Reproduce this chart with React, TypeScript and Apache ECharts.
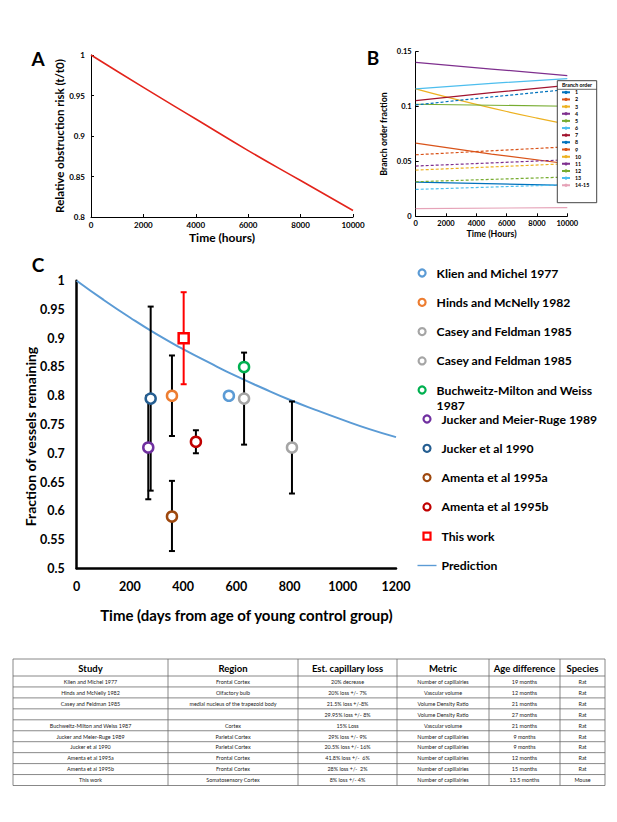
import React, { useEffect, useRef } from "react";
import * as echarts from "echarts";

const FONT = "Lato, 'Open Sans', 'DejaVu Sans', sans-serif";

// ---------- Panel A ----------
const riskHours = [0, 2000, 4000, 6000, 8000, 10000];
const riskValues = [1.0, 0.96, 0.921, 0.882, 0.845, 0.808];

// ---------- Panel B ----------
const branchNames = ["1", "2", "3", "4", "5", "6", "7", "8", "9", "10", "11", "12", "13", "14-15"];
const branchColors = [
  "#0072BD", "#D95319", "#EDB120", "#7E2F8E", "#77AC30", "#4DBEEE", "#A2142F",
  "#0072BD", "#D95319", "#EDB120", "#7E2F8E", "#77AC30", "#4DBEEE", "#E6A3B8",
];
const branchDashed = [false, false, false, false, false, false, false, true, true, true, true, true, true, false];
const branch1 = [[0, 0.0312], [10000, 0.0282]];
const branch2 = [[0, 0.0667], [5000, 0.0567], [10000, 0.0479]];
const branch3 = [[0, 0.1161], [2000, 0.1088], [4000, 0.102], [6000, 0.0955], [8000, 0.0895], [10000, 0.0839]];
const branch4 = [[0, 0.1403], [5000, 0.1342], [10000, 0.1282]];
const branch5 = [[0, 0.1021], [10000, 0.1003]];
const branch6 = [[0, 0.1161], [5000, 0.1212], [10000, 0.1255]];
const branch7 = [[0, 0.1055], [5000, 0.1127], [10000, 0.1194]];
const branch8 = [[0, 0.1015], [5000, 0.1088], [10000, 0.1155]];
const branch9 = [[0, 0.0561], [10000, 0.0633]];
const branch10 = [[0, 0.0421], [10000, 0.0479]];
const branch11 = [[0, 0.0458], [10000, 0.0515]];
const branch12 = [[0, 0.0315], [10000, 0.0358]];
const branch13 = [[0, 0.0245], [10000, 0.0288]];
const branch14 = [[0, 0.007], [10000, 0.0079]];
const branchData = [branch1, branch2, branch3, branch4, branch5, branch6, branch7, branch8, branch9, branch10, branch11, branch12, branch13, branch14];

// ---------- Panel C ----------
const predDays = [0, 100, 200, 300, 400, 500, 600, 700, 800, 900, 1000, 1100, 1200];
const predValues = [1.0, 0.967, 0.936, 0.907, 0.881, 0.857, 0.834, 0.813, 0.793, 0.775, 0.758, 0.742, 0.728];

const studyNames = [
  "Klien and Michel 1977",
  "Hinds and McNelly 1982",
  "Casey and Feldman 1985",
  "Casey and Feldman 1985 ",
  "Buchweitz-Milton and Weiss 1987",
  "Jucker and Meier-Ruge 1989",
  "Jucker et al 1990",
  "Amenta et al 1995a",
  "Amenta et al 1995b",
  "This work",
];
const studyColors = ["#5B9BD5", "#ED7D31", "#A5A5A5", "#A5A5A5", "#00B050", "#7030A0", "#255E91", "#9E480E", "#C00000", "#FF0000"];
const studyDays = [572, 358, 629, 809, 629, 269, 278, 358, 448, 402];
const studyFractions = [0.8, 0.8, 0.795, 0.71, 0.85, 0.71, 0.795, 0.59, 0.72, 0.9];

const errDays = [358, 629, 809, 269, 278, 358, 448];
const errLow = [0.73, 0.715, 0.63, 0.62, 0.635, 0.53, 0.7];
const errHigh = [0.87, 0.875, 0.79, 0.8, 0.955, 0.652, 0.74];
const ownErrDays = [402];
const ownErrLow = [0.82];
const ownErrHigh = [0.98];

// ---------- Table ----------
const tableHeaders = ["Study", "Region", "Est. capillary loss", "Metric", "Age difference", "Species"];
const tableStudy = ["Klien and Michel 1977", "Hinds and McNelly 1982", "Casey and Feldman 1985", "", "Buchweitz-Milton and Weiss 1987", "Jucker and Meier-Ruge 1989", "Jucker et al 1990", "Amenta et al 1995a", "Amenta et al 1995b", "This work"];
const tableRegion = ["Frontal Cortex", "Olfactory bulb", "medial nucleus of the trapezoid body", "", "Cortex", "Parietal Cortex", "Parietal Cortex", "Frontal Cortex", "Frontal Cortex", "Somatosensory Cortex"];
const tableLoss = ["20% decrease", "20% loss +/- 7%", "21.5% loss +/-8%", "29.95% loss +/- 8%", "15% Loss", "29% loss +/- 9%", "20.5% loss +/- 16%", "41.8% loss +/-  6%", "28% loss +/-  2%", "8% loss +/- 4%"];
const tableMetric = ["Number of capillairies", "Vascular volume", "Volume Density Ratio", "Volume Density Ratio", "Vascular volume", "Number of capillairies", "Number of capillairies", "Number of capillairies", "Number of capillairies", "Number of capillairies"];
const tableAge = ["19 months", "12 months", "21 months", "27 months", "21 months", "9 months", "9 months", "12 months", "15 months", "13.5 months"];
const tableSpecies = ["Rat", "Rat", "Rat", "Rat", "Rat", "Rat", "Rat", "Rat", "Rat", "Mouse"];

function buildTable(): any[] {
  const cols = [13, 168, 298, 397, 489, 560, 605];
  const top = 659;
  const headH = 17;
  const rowH = 10.95;
  const nRows = tableStudy.length;
  const bottom = top + headH + rowH * nRows;
  const els: any[] = [];
  const lineStyle = { stroke: "#6a6a6a", lineWidth: 0.8 };
  const ys = [top, top + headH];
  for (let i = 1; i <= nRows; i++) ys.push(top + headH + rowH * i);
  ys.forEach((y) => {
    els.push({ type: "line", shape: { x1: cols[0], y1: y, x2: cols[cols.length - 1], y2: y }, style: lineStyle, silent: true });
  });
  cols.forEach((x) => {
    els.push({ type: "line", shape: { x1: x, y1: top, x2: x, y2: bottom }, style: lineStyle, silent: true });
  });
  tableHeaders.forEach((h, c) => {
    els.push({
      type: "text",
      x: (cols[c] + cols[c + 1]) / 2,
      y: top + headH / 2 + 0.5,
      style: { text: h, fontFamily: FONT, fontWeight: "bold", fontSize: 9.5, fill: "#000", align: "center", verticalAlign: "middle" },
      silent: true,
    });
  });
  const colsData = [tableStudy, tableRegion, tableLoss, tableMetric, tableAge, tableSpecies];
  colsData.forEach((arr, c) => {
    arr.forEach((t, r) => {
      if (!t) return;
      els.push({
        type: "text",
        x: (cols[c] + cols[c + 1]) / 2,
        y: top + headH + rowH * r + rowH / 2 + 0.3,
        style: { text: t, fontFamily: FONT, fontSize: 5.4, fill: "#222", align: "center", verticalAlign: "middle" },
        silent: true,
      });
    });
  });
  return els;
}

const plainNum = (v: number) => String(v);

export default function App() {
  const ref = useRef<HTMLDivElement>(null);

  useEffect(() => {
    document.body.style.margin = "0";
    if (!ref.current) return;
    const chart = echarts.init(ref.current, undefined, { renderer: "svg" });

    const boldLabel = (size: number) => ({ fontFamily: FONT, fontWeight: "bold" as const, fontSize: size, color: "#000" });

    const series: any[] = [];
    // A
    series.push({
      type: "line",
      xAxisIndex: 0,
      yAxisIndex: 0,
      data: riskHours.map((h, i) => [h, riskValues[i]]),
      symbol: "none",
      smooth: true,
      lineStyle: { color: "#E3241B", width: 1.6 },
    });
    // B
    branchNames.forEach((n, i) => {
      series.push({
        type: "line",
        name: n,
        xAxisIndex: 1,
        yAxisIndex: 1,
        data: branchData[i],
        symbol: "none",
        smooth: branchData[i].length > 3,
        lineStyle: { color: branchColors[i], width: 1.2, type: branchDashed[i] ? [3, 2] : "solid" },
        itemStyle: { color: branchColors[i] },
        z: 2,
      });
    });
    // C prediction
    series.push({
      type: "line",
      name: "Prediction",
      xAxisIndex: 2,
      yAxisIndex: 2,
      data: predDays.map((d, i) => [d, predValues[i]]),
      symbol: "none",
      smooth: true,
      lineStyle: { color: "#5B9BD5", width: 2 },
      itemStyle: { color: "#5B9BD5" },
      z: 2,
    });
    const errRender = (color: string) => (params: any, api: any) => {
      const x = api.value(0);
      const p1 = api.coord([x, api.value(2)]);
      const p2 = api.coord([x, api.value(1)]);
      const w = 3;
      const st = { stroke: color, lineWidth: 2 };
      return {
        type: "group",
        children: [
          { type: "line", shape: { x1: p1[0], y1: p1[1], x2: p2[0], y2: p2[1] }, style: st },
          { type: "line", shape: { x1: p1[0] - w, y1: p1[1], x2: p1[0] + w, y2: p1[1] }, style: st },
          { type: "line", shape: { x1: p2[0] - w, y1: p2[1], x2: p2[0] + w, y2: p2[1] }, style: st },
        ],
      };
    };
    series.push({
      type: "custom",
      xAxisIndex: 2,
      yAxisIndex: 2,
      data: errDays.map((d, i) => [d, errLow[i], errHigh[i]]),
      renderItem: errRender("#000"),
      z: 3,
    });
    series.push({
      type: "custom",
      xAxisIndex: 2,
      yAxisIndex: 2,
      data: ownErrDays.map((d, i) => [d, ownErrLow[i], ownErrHigh[i]]),
      renderItem: errRender("#FF0000"),
      z: 3,
    });
    studyNames.forEach((n, i) => {
      const isSquare = n === "This work";
      series.push({
        type: "scatter",
        name: n,
        xAxisIndex: 2,
        yAxisIndex: 2,
        data: [[studyDays[i], studyFractions[i]]],
        symbol: isSquare ? "rect" : "circle",
        symbolSize: 10,
        itemStyle: { color: "#fff", borderColor: studyColors[i], borderWidth: 2.5, opacity: 1 },
        z: 5,
      });
    });

    const legendItem = (name: string) => {
      if (name === "This work") return { name, icon: "path://M0,0L10,0L10,10L0,10Z" };
      if (name === "Prediction") return { name, icon: "path://M0,0L22,0L22,1.6L0,1.6Z", itemStyle: { borderWidth: 0 } };
      return { name, icon: "circle" };
    };

    const cText = { fontFamily: FONT, fontWeight: "bold", fontSize: 12.2, lineHeight: 15, color: "#000" };
    const cLegendCommon = {
      orient: "vertical",
      left: 417.5,
      itemWidth: 19,
      itemHeight: 7,
      itemGap: 14.3,
      padding: 0,
      selectedMode: false,
      itemStyle: { borderWidth: 2.2 },
      textStyle: cText,
    };

    const option: any = {
      animation: false,
      textStyle: { fontFamily: FONT },
      grid: [
        { left: 91, top: 55, width: 262, height: 162 },
        { left: 415.7, top: 51.7, width: 151.6, height: 164.6 },
        { left: 76.7, top: 280.7, width: 319.3, height: 287.6 },
      ],
      xAxis: [
        {
          gridIndex: 0, type: "value", min: 0, max: 10000, interval: 2000,
          axisLine: { lineStyle: { color: "#000", width: 1 } },
          axisTick: { inside: true, length: 3, lineStyle: { color: "#000" } },
          splitLine: { show: false },
          axisLabel: { ...boldLabel(8), margin: 4, formatter: plainNum },
          name: "Time (hours)", nameLocation: "middle", nameGap: 14, nameMoveOverlap: false,
          nameTextStyle: boldLabel(12),
        },
        {
          gridIndex: 1, type: "value", min: 0, max: 10000, interval: 2000,
          axisLine: { lineStyle: { color: "#000", width: 1 } },
          axisTick: { inside: true, length: 3, lineStyle: { color: "#000" } },
          splitLine: { show: false },
          axisLabel: { ...boldLabel(7.5), margin: 3, formatter: plainNum },
          name: "Time (Hours)", nameLocation: "middle", nameGap: 12.5, nameMoveOverlap: false,
          nameTextStyle: boldLabel(8.8),
        },
        {
          gridIndex: 2, type: "value", min: 0, max: 1200, interval: 200,
          axisLine: { lineStyle: { color: "#000", width: 2.5 } },
          axisTick: { show: false },
          splitLine: { show: false },
          axisLabel: { ...boldLabel(12.5), margin: 12, formatter: plainNum },
          name: "Time (days from age of young control group)", nameLocation: "middle", nameGap: 39.5, nameMoveOverlap: false,
          nameTextStyle: { ...boldLabel(15), padding: [0, 0, 0, 20] },
        },
      ],
      yAxis: [
        {
          gridIndex: 0, type: "value", min: 0.8, max: 1, interval: 0.05,
          axisLine: { show: true, lineStyle: { color: "#000", width: 1 } },
          axisTick: { show: true, inside: true, length: 3, lineStyle: { color: "#000" } },
          splitLine: { show: false },
          axisLabel: { ...boldLabel(8), margin: 6 },
          name: "Relative obstruction risk (t/t0)", nameLocation: "middle", nameGap: 26, nameMoveOverlap: false,
          nameTextStyle: boldLabel(11.5),
        },
        {
          gridIndex: 1, type: "value", min: 0, max: 0.15, interval: 0.05,
          axisLine: { show: true, lineStyle: { color: "#000", width: 1 } },
          axisTick: { show: true, inside: true, length: 3, lineStyle: { color: "#000" } },
          splitLine: { show: false },
          axisLabel: { ...boldLabel(7.5), margin: 4 },
          name: "Branch order fraction", nameLocation: "middle", nameGap: 27.5, nameMoveOverlap: false,
          nameTextStyle: boldLabel(8.8),
        },
        {
          gridIndex: 2, type: "value", min: 0.5, max: 1, interval: 0.05,
          axisLine: { show: true, lineStyle: { color: "#000", width: 2.5 } },
          axisTick: { show: false },
          splitLine: { show: false },
          axisLabel: { ...boldLabel(12.5), margin: 12 },
          name: "Fraction of vessels remaining", nameLocation: "middle", nameGap: 39, nameMoveOverlap: false,
          nameTextStyle: { ...boldLabel(14), padding: [0, 24, 0, 0] },
        },
      ],
      legend: [
        {
          orient: "vertical",
          left: 561,
          top: 89.3,
          itemWidth: 8,
          itemHeight: 4,
          itemGap: 1.15,
          padding: 0,
          selectedMode: false,
          z: 20,
          data: branchNames,
          textStyle: { fontFamily: FONT, fontWeight: "bold", fontSize: 5.3, lineHeight: 6, color: "#000" },
        },
        { ...cLegendCommon, top: 265.5, data: studyNames.slice(0, 4).map(legendItem) },
        {
          ...cLegendCommon,
          top: 367.5,
          data: [legendItem(studyNames[4])],
          formatter: () => "\nBuchweitz-Milton and Weiss\n1987",
        },
        { ...cLegendCommon, top: 411.5, data: [...studyNames.slice(5), "Prediction"].map(legendItem) },
      ],
      graphic: [
        { type: "text", x: 38, y: 58, style: { text: "A", fontFamily: FONT, fontWeight: "bold", fontSize: 19, fill: "#000", align: "center", verticalAlign: "middle" } },
        { type: "text", x: 373, y: 57, style: { text: "B", fontFamily: FONT, fontWeight: "bold", fontSize: 19, fill: "#000", align: "center", verticalAlign: "middle" } },
        { type: "text", x: 38, y: 264, style: { text: "C", fontFamily: FONT, fontWeight: "bold", fontSize: 19, fill: "#000", align: "center", verticalAlign: "middle" } },
        { type: "rect", z: 15, shape: { x: 557.3, y: 80.7, width: 39.4, height: 122 }, style: { fill: "#fff", stroke: "#444", lineWidth: 1 } },
        { type: "line", z: 16, shape: { x1: 557.3, y1: 89.3, x2: 596.7, y2: 89.3 }, style: { stroke: "#444", lineWidth: 0.8 } },
        { type: "text", z: 16, x: 577, y: 85, style: { text: "Branch order", fontFamily: FONT, fontWeight: "bold", fontSize: 5.2, fill: "#000", align: "center", verticalAlign: "middle" } },
        ...buildTable(),
      ],
      series,
    };

    chart.setOption(option);
    return () => chart.dispose();
  }, []);

  return <div ref={ref} style={{ width: 617, height: 822 }} />;
}
